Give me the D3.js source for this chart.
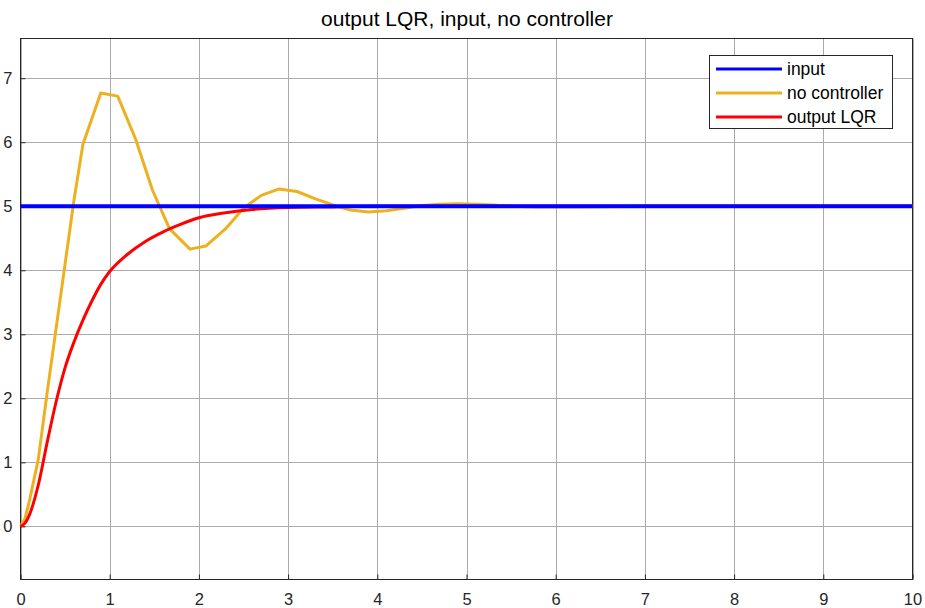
<!DOCTYPE html>
<html>
<head>
<meta charset="utf-8">
<script src="https://cdn.jsdelivr.net/npm/d3@7"></script>
<style>
  body { margin: 0; background: #fff; }
  svg { display: block; font-family: "Liberation Sans", Arial, sans-serif; }
</style>
</head>
<body>
<svg width="925" height="608"></svg>
<script>
// time points and values
var inputT = [0, 10]
var inputY = [5, 5]

var noCtrlT = [0, 0.05, 0.1, 0.2, 0.3, 0.45, 0.6, 0.7, 0.9, 1.09, 1.29, 1.48, 1.67, 1.9, 2.08, 2.3, 2.5, 2.7, 2.9, 3.1, 3.3, 3.5, 3.7, 3.9, 4.1, 4.3, 4.5, 4.7, 4.9, 5.1, 5.3, 5.5, 5.8, 6.2, 7, 8, 9, 10]
var noCtrlY = [0, 0.12, 0.4, 1.05, 2.1, 3.6, 5.1, 5.97, 6.77, 6.72, 6.05, 5.25, 4.65, 4.33, 4.38, 4.65, 4.97, 5.17, 5.27, 5.23, 5.12, 5.02, 4.94, 4.91, 4.93, 4.97, 5.01, 5.03, 5.04, 5.03, 5.02, 5.0, 4.99, 4.99, 5.0, 5.0, 5.0, 5.0]

var lqrT = [0, 0.05, 0.1, 0.2, 0.3, 0.4, 0.5, 0.6, 0.7, 0.8, 0.9, 1.0, 1.2, 1.4, 1.6, 1.8, 2.0, 2.3, 2.6, 3.0, 3.5, 4, 5, 6, 8, 10]
var lqrY = [0, 0.05, 0.18, 0.65, 1.32, 1.95, 2.48, 2.88, 3.22, 3.52, 3.78, 3.98, 4.25, 4.45, 4.6, 4.72, 4.82, 4.9, 4.95, 4.98, 4.99, 5, 5, 5, 5, 5]

var xTicks = [0, 1, 2, 3, 4, 5, 6, 7, 8, 9, 10]
var yTicks = [0, 1, 2, 3, 4, 5, 6, 7]

var seriesNames = ['input', 'no controller', 'output LQR']
var seriesColors = ['#0000ff', '#edb120', '#ff0000']

var svg = d3.select('svg')

var plotLeft = 20.5, plotRight = 912.5, plotTop = 38.5, plotBottom = 579.5

var mapX = d3.scaleLinear().domain([0, 10]).range([plotLeft, plotRight])
var mapY = d3.scaleLinear().domain([-0.83, 7.62]).range([plotBottom, plotTop])

// grid
svg.append('g')
    .selectAll('line')
    .data(xTicks)
    .enter()
    .append('line')
    .attr('x1', function(d){ return Math.round(mapX(d)) + 0.5 })
    .attr('x2', function(d){ return Math.round(mapX(d)) + 0.5 })
    .attr('y1', plotTop)
    .attr('y2', plotBottom)
    .attr('stroke', '#ababab')
    .attr('stroke-width', 1)

svg.append('g')
    .selectAll('line')
    .data(yTicks)
    .enter()
    .append('line')
    .attr('y1', function(d){ return Math.round(mapY(d)) + 0.5 })
    .attr('y2', function(d){ return Math.round(mapY(d)) + 0.5 })
    .attr('x1', plotLeft)
    .attr('x2', plotRight)
    .attr('stroke', '#ababab')
    .attr('stroke-width', 1)

// axes (ticks inside, box)
var myAxisX = d3.axisBottom(mapX).tickValues(xTicks).tickSize(-5).tickPadding(14).tickFormat(d3.format('d'))
var gx = svg.append('g')
    .attr('transform', 'translate(0,' + plotBottom + ')')
    .call(myAxisX)
var myAxisY = d3.axisLeft(mapY).tickValues(yTicks).tickSize(-5).tickPadding(8).tickFormat(d3.format('d'))
var gy = svg.append('g')
    .attr('transform', 'translate(' + plotLeft + ',0)')
    .call(myAxisY)

;[gx, gy].forEach(function(g){
    g.select('.domain').remove()
    g.selectAll('line').attr('stroke', '#262626')
    g.selectAll('text')
        .attr('fill', '#262626')
        .style('font-size', '16.5px')
        .style('font-family', '"Liberation Sans", Arial, sans-serif')
})

svg.append('rect')
    .attr('x', plotLeft)
    .attr('y', plotTop)
    .attr('width', plotRight - plotLeft)
    .attr('height', plotBottom - plotTop)
    .attr('fill', 'none')
    .attr('stroke', '#262626')
    .attr('stroke-width', 1)

// lines
var line = d3.line()
    .x(function(d){ return mapX(d[0]) })
    .y(function(d){ return mapY(d[1]) })

var smoothLine = d3.line()
    .curve(d3.curveMonotoneX)
    .x(function(d){ return mapX(d[0]) })
    .y(function(d){ return mapY(d[1]) })

var lineData = [
    d3.zip(inputT, inputY),
    d3.zip(noCtrlT, noCtrlY),
    d3.zip(lqrT, lqrY)
]
var widths = [4, 3, 3]
var gens = [line, line, smoothLine]

// draw order: no controller, output LQR, then input on top
;[1, 2, 0].forEach(function(i){
    svg.append('path')
        .datum(lineData[i])
        .attr('d', gens[i])
        .attr('fill', 'none')
        .attr('stroke', seriesColors[i])
        .attr('stroke-width', widths[i])
        .attr('stroke-linejoin', 'round')
})

// title
svg.append('text')
    .attr('x', 467)
    .attr('y', 26)
    .attr('text-anchor', 'middle')
    .attr('fill', '#000')
    .style('font-size', '21px')
    .text('output LQR, input, no controller')

// legend
var legend = svg.append('g')
legend.append('rect')
    .attr('x', 709.5)
    .attr('y', 55.5)
    .attr('width', 183)
    .attr('height', 73)
    .attr('fill', '#fff')
    .attr('stroke', '#262626')
    .attr('stroke-width', 1)

var items = legend.selectAll('g.item')
    .data(seriesNames)
    .enter()
    .append('g')
    .attr('transform', function(d, i){ return 'translate(716,' + (69 + i * 24) + ')' })

items.append('line')
    .attr('x1', 0)
    .attr('x2', 66)
    .attr('stroke', function(d, i){ return seriesColors[i] })
    .attr('stroke-width', 3)

items.append('text')
    .attr('x', 71)
    .attr('y', 6)
    .attr('fill', '#000')
    .style('font-size', '17.5px')
    .text(function(d){ return d })
</script>
</body>
</html>
